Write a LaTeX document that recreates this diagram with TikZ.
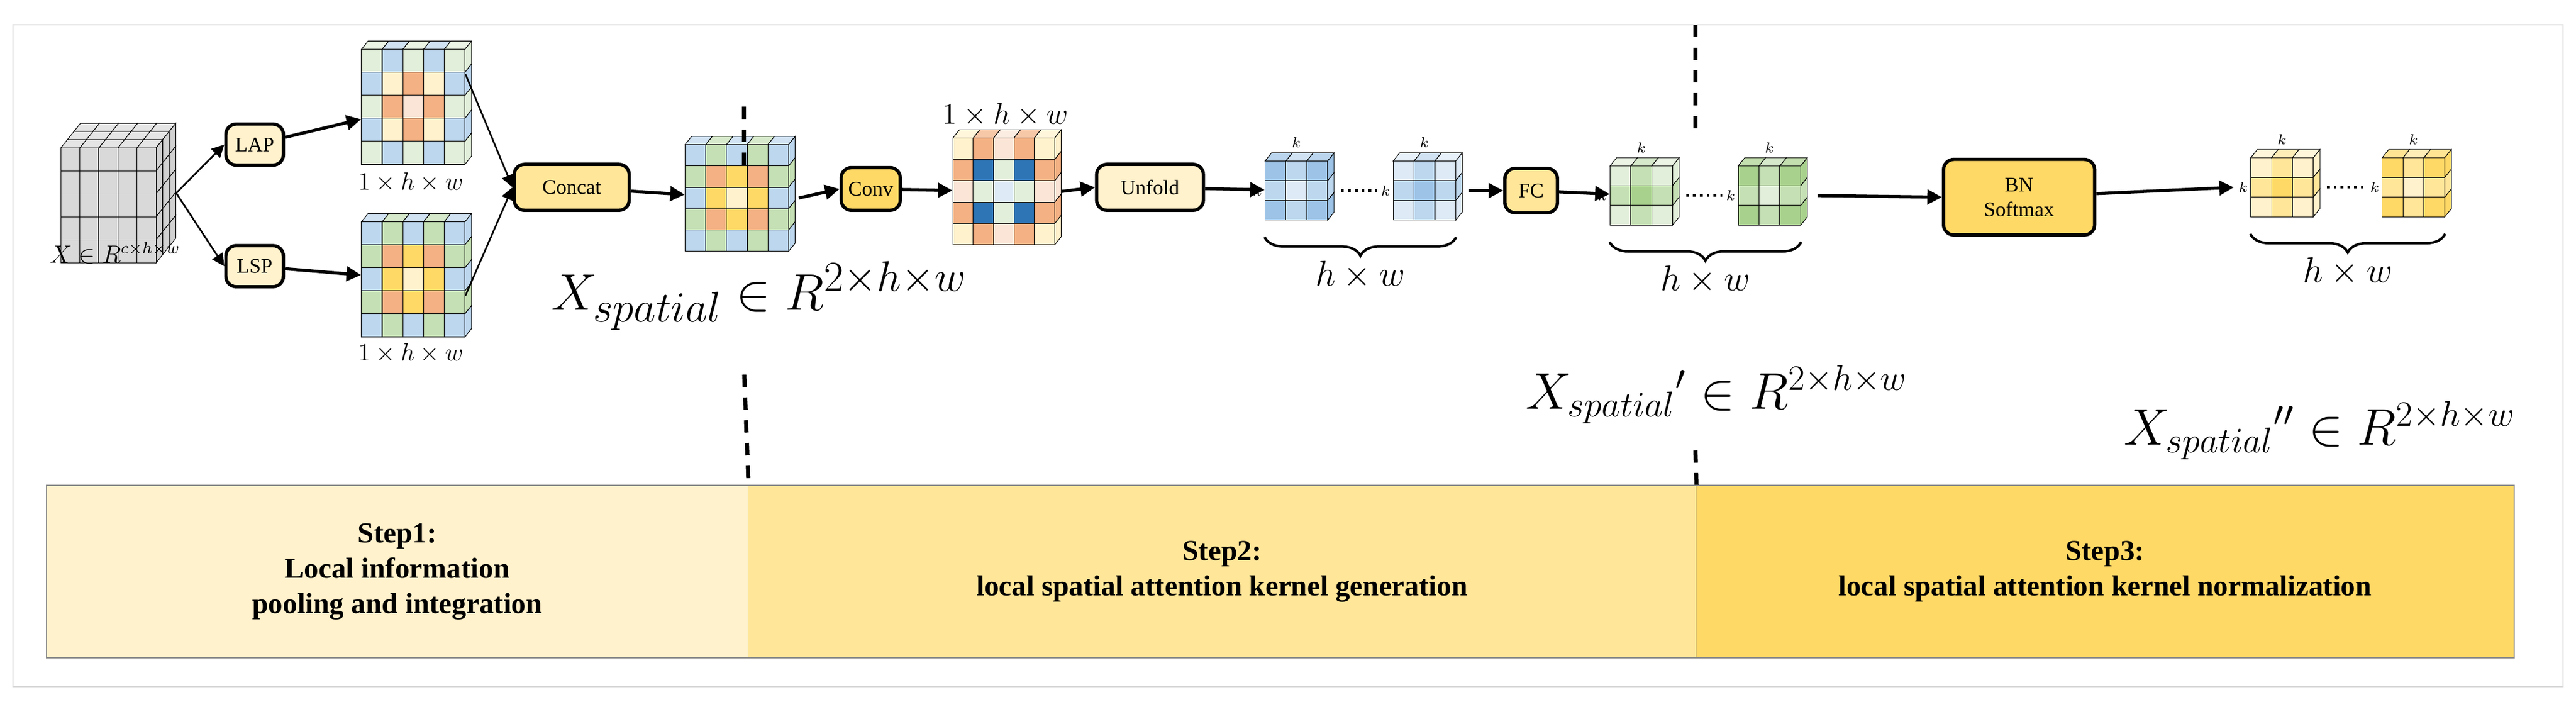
\documentclass[tikz,border=0pt]{standalone}
\usepackage{fontspec}
\setmainfont{Liberation Serif}
\usetikzlibrary{arrows.meta,positioning,fit,decorations.pathreplacing}
\definecolor{cg}{HTML}{E2EFDA}
\definecolor{cG}{HTML}{C5E0B4}
\definecolor{cA}{HTML}{A9D18E}
\definecolor{cb}{HTML}{BDD7EE}
\definecolor{cL}{HTML}{DEEBF7}
\definecolor{cM}{HTML}{9DC3E6}
\definecolor{cD}{HTML}{2E75B6}
\definecolor{cy}{HTML}{FFF2CC}
\definecolor{cy2}{HTML}{FFE699}
\definecolor{cY}{HTML}{FFD966}
\definecolor{co}{HTML}{F4B183}
\definecolor{cp}{HTML}{FBE5D6}
\tikzset{
  cell/.style={draw=black,line width=0.3pt},
  op/.style={draw,line width=1.6pt,rounded corners=5pt,font=\fontsize{10}{12}\selectfont,align=center,inner sep=2pt},
  arr/.style={line width=1.5pt,-{Triangle[length=7pt,width=7pt]}},
  thin arr/.style={line width=0.8pt,-{Triangle[length=6pt,width=6pt]}},
  stepbox/.style={draw=black!45,line width=0.5pt,font=\bfseries\fontsize{14}{17}\selectfont,align=center,anchor=north west,inner sep=0pt},
  sep/.style={line width=2pt,dash pattern=on 6pt off 5pt},
  brc/.style={decorate,decoration={brace,mirror,amplitude=9pt},line width=1.2pt},
  klab/.style={font=\fontsize{7}{8}\selectfont,inner sep=1pt}
}
% grid block: name, x, y, cell w, cell h, n, colours (row by row)
\newcommand{\kgrid}[7]{%
  \foreach \c [count=\i from 0] in {#7}{
    \pgfmathtruncatemacro\col{mod(\i,#6)}
    \pgfmathtruncatemacro\row{int(\i/#6)}
    \draw[cell,fill=\c] ({#2+\col*#4},{#3+\row*#5}) rectangle ++(#4,#5);
    \ifnum\row=0
      \draw[cell,fill=\c!70!white] ({#2+\col*#4},#3) -- ++(4,-5) -- ++(#4,0) -- ++(-4,5) -- cycle;
    \fi
    \ifnum\col=\numexpr#6-1\relax
      \draw[cell,fill=\c] ({#2+#6*#4},{#3+\row*#5}) -- ++(4,-5) -- ++(0,#5) -- ++(-4,5) -- cycle;
    \fi
  }
  \node[inner sep=0pt,fit={(#2,#3) ({#2+#6*#4},{#3+#6*#5})}] (#1) {};
}
\begin{document}
\begin{tikzpicture}[x=0.0279cm,y=-0.0279cm]
\useasboundingbox (0,0) rectangle (1568,427);
\draw[black!15,line width=0.6pt] (8,15) rectangle (1560,418);

% steps
\node[stepbox,fill=cy,minimum width=427*0.0279cm,minimum height=105*0.0279cm] (s1) at (28,295) {Step1:\\Local information\\pooling and integration};
\node[stepbox,fill=cy2,minimum width=577*0.0279cm,minimum height=105*0.0279cm] (s2) at (455,295) {Step2:\\local spatial attention kernel generation};
\node[stepbox,fill=cY,minimum width=498*0.0279cm,minimum height=105*0.0279cm] (s3) at (1032,295) {Step3:\\local spatial attention kernel normalization};

% input cube
\foreach \l in {2,1,0}{
  \foreach \cc in {0,...,4}
    \draw[cell,fill=black!10] ({37+\cc*11.6+\l*4},{90-\l*5}) -- ++(4,-5) -- ++(11.6,0) -- ++(-4,5) -- cycle;
}
\foreach \l in {0,1,2}
  \foreach \r in {0,...,4}
    \draw[cell,fill=black!18] ({95+\l*4},{90+\r*14-\l*5}) -- ++(4,-5) -- ++(0,14) -- ++(-4,5) -- cycle;
\foreach \r in {0,...,4}
  \foreach \cc in {0,...,4}
    \draw[cell,fill=black!15] ({37+\cc*11.6},{90+\r*14}) rectangle ++(11.6,14);
\node[inner sep=0pt,fit={(37,75) (107,160)}] (x) {};
\node[font=\fontsize{12}{14}\selectfont] (xl) at (70,154) {$X\in R^{c\times h\times w}$};

% pooling
\node[op,fill=cy,minimum width=35*0.0279cm,minimum height=25*0.0279cm] (lap) at (155,88) {LAP};
\node[op,fill=cy,minimum width=35*0.0279cm,minimum height=25*0.0279cm] (lsp) at (155,162) {LSP};
\draw[thin arr] (x.east) -- (lap.west);
\draw[thin arr] (x.east) -- (lsp.west);

\kgrid{ga}{220}{30}{12.6}{14}{5}{cg,cb,cg,cb,cg, cb,cy,co,cy,cb, cg,co,cp,co,cg, cb,cy,co,cy,cb, cg,cb,cg,cb,cg}
\kgrid{gs}{220}{135}{12.6}{14}{5}{cb,cG,cb,cG,cb, cG,co,cY,co,cG, cb,cY,cy,cY,cb, cG,co,cY,co,cG, cb,cG,cb,cG,cb}
\node[font=\fontsize{13}{15}\selectfont] at (250,111) {$1\times h\times w$};
\node[font=\fontsize{13}{15}\selectfont] at (250,215) {$1\times h\times w$};
\draw[arr] (lap) -- (ga);
\draw[arr] (lsp) -- (gs);

\node[op,fill=cy2,minimum width=70*0.0279cm,minimum height=28*0.0279cm] (cat) at (348,114) {Concat};
\draw[thin arr] (ga.east) ++(0,-20) -- (cat.west);
\draw[thin arr] (gs.east) ++(0,10) -- (cat.west);

\kgrid{gc}{417}{88}{12.6}{13}{5}{cb,cG,cb,cG,cb, cG,co,cY,co,cG, cb,cY,cy,cY,cb, cG,co,cY,co,cG, cb,cG,cb,cG,cb}
\draw[arr] (cat) -- (gc);
\node[font=\fontsize{30}{34}\selectfont] at (462,180) {$X_{spatial}\in R^{2\times h\times w}$};

\node[op,fill=cY,minimum width=36*0.0279cm,minimum height=26*0.0279cm] (conv) at (530,115) {Conv};
\draw[arr] (gc.east) ++(6,0) -- (conv.west);
\kgrid{gv}{580}{84}{12.4}{13}{5}{cy,co,cp,co,cy, co,cD,cg,cD,co, cp,cg,cL,cg,cp, co,cD,cg,cD,co, cy,co,cp,co,cy}
\draw[arr] (conv) -- (gv);
\node[font=\fontsize{14}{16}\selectfont] at (612,70) {$1\times h\times w$};

\node[op,fill=cy,minimum width=65*0.0279cm,minimum height=28*0.0279cm] (unf) at (700,114) {Unfold};
\draw[arr] (gv.east) ++(4,0) -- (unf.west);

% kernels
\kgrid{b1}{770}{98}{12.7}{12}{3}{cM,cb,cM, cb,cL,cb, cM,cb,cM}
\kgrid{b2}{848}{98}{12.7}{12}{3}{cL,cb,cL, cb,cM,cb, cL,cb,cL}
\draw[arr] (unf) -- (b1);
\draw[line width=1.3pt,dotted] (b1.east) ++(8,0) -- ++(22,0);
\foreach \b in {b1,b2}{
  \node[klab,above=5pt of \b] {$k$};
  \node[klab,left=0pt of \b] {$k$};
}
\draw[brc] ([yshift=-8pt]b1.south west) -- ([yshift=-8pt]b2.south east) coordinate[midway] (bm);
\node[font=\fontsize{16}{18}\selectfont,below=8pt of bm] {$h\times w$};

\node[op,fill=cy2,minimum width=32*0.0279cm,minimum height=27*0.0279cm] (fc) at (932,116) {FC};
\draw[arr] (b2.east) ++(8,0) -- (fc.west);
\kgrid{e1}{980}{101}{12.7}{12}{3}{cg,cG,cg, cG,cA,cG, cg,cG,cg}
\kgrid{e2}{1058}{101}{12.7}{12}{3}{cA,cG,cA, cG,cg,cG, cA,cG,cA}
\draw[arr] (fc) -- (e1);
\draw[line width=1.3pt,dotted] (e1.east) ++(8,0) -- ++(22,0);
\foreach \b in {e1,e2}{
  \node[klab,above=5pt of \b] {$k$};
  \node[klab,left=0pt of \b] {$k$};
}
\draw[brc] ([yshift=-8pt]e1.south west) -- ([yshift=-8pt]e2.south east) coordinate[midway] (em);
\node[font=\fontsize{16}{18}\selectfont,below=8pt of em] {$h\times w$};

\node[op,fill=cY,minimum width=92*0.0279cm,minimum height=46*0.0279cm] (bn) at (1229,120) {BN\\Softmax};
\draw[arr] (e2.east) ++(10,0) -- (bn.west);
\kgrid{y1}{1370}{96}{12.7}{12}{3}{cy,cy2,cy, cy2,cY,cy2, cy,cy2,cy}
\kgrid{y2}{1450}{96}{12.7}{12}{3}{cY,cy2,cY, cy2,cy,cy2, cY,cy2,cY}
\draw[arr] (bn) -- ([xshift=-8pt]y1.west);
\draw[line width=1.3pt,dotted] (y1.east) ++(8,0) -- ++(22,0);
\foreach \b in {y1,y2}{
  \node[klab,above=5pt of \b] {$k$};
  \node[klab,left=0pt of \b] {$k$};
}
\draw[brc] ([yshift=-8pt]y1.south west) -- ([yshift=-8pt]y2.south east) coordinate[midway] (ym);
\node[font=\fontsize{16}{18}\selectfont,below=8pt of ym] {$h\times w$};

\node[font=\fontsize{24}{28}\selectfont] at (1045,240) {$X_{spatial}{}'\in R^{2\times h\times w}$};
\node[font=\fontsize{24}{28}\selectfont] at (1412,262) {$X_{spatial}{}''\in R^{2\times h\times w}$};

% separators
\draw[sep] (453,65) -- (453,105);
\draw[sep] (453,228) -- (s1.north east);
\draw[sep] (1032,15) -- (1032,80);
\draw[sep] (1032,274) -- (s2.north east);
\end{tikzpicture}
\end{document}
